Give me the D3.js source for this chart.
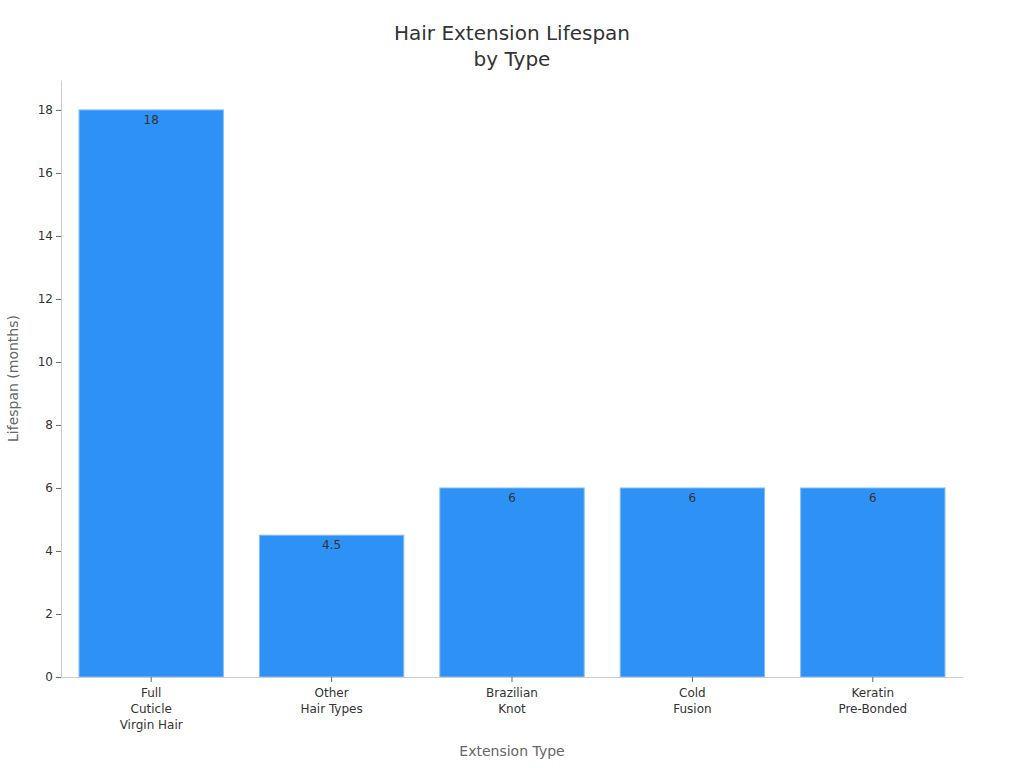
<!DOCTYPE html>
<html>
<head>
<meta charset="utf-8">
<script src="https://cdn.jsdelivr.net/npm/d3@7"></script>
<style>
  body { margin: 0; background: #fff; }
  svg { font-family: 'DejaVu Sans', sans-serif; }
</style>
</head>
<body>
<svg id="chart"></svg>
<script>
const WIDTH = 1024;
const HEIGHT = 768;

// Chart data.
const categories = [
  ['Full', 'Cuticle', 'Virgin Hair'],
  ['Other', 'Hair Types'],
  ['Brazilian', 'Knot'],
  ['Cold', 'Fusion'],
  ['Keratin', 'Pre-Bonded']
];
const lifespans = [18, 4.5, 6, 6, 6];
const yTicks = [0, 2, 4, 6, 8, 10, 12, 14, 16, 18];

const margin = {top: 80, right: 61, bottom: 91, left: 61};

const svg = d3.select('#chart')
  .attr('width', WIDTH)
  .attr('height', HEIGHT);

const keys = categories.map(c => c.join(' '));

const x = d3.scaleBand()
  .domain(keys)
  .range([margin.left, WIDTH - margin.right])
  .paddingInner(0.2)
  .paddingOuter(0.1);

const y = d3.scaleLinear()
  .domain([0, 18.95])
  .range([HEIGHT - margin.bottom, margin.top]);

// Title.
const title = svg.append('text')
  .attr('text-anchor', 'middle')
  .attr('fill', '#333')
  .style('font-size', '20px');
title.append('tspan').attr('x', WIDTH / 2).attr('y', 40).text('Hair Extension Lifespan');
title.append('tspan').attr('x', WIDTH / 2).attr('y', 66).text('by Type');

// Bars.
svg.append('g')
  .selectAll('rect')
  .data(lifespans)
  .join('rect')
  .attr('x', (d, i) => x(keys[i]))
  .attr('y', d => y(d))
  .attr('width', x.bandwidth())
  .attr('height', d => y(0) - y(d))
  .attr('fill', '#2e91f6')
  .attr('stroke', '#7fbcf9')
  .attr('stroke-width', 1);

// Value labels inside the top of each bar.
svg.append('g')
  .selectAll('text')
  .data(lifespans)
  .join('text')
  .attr('x', (d, i) => x(keys[i]) + x.bandwidth() / 2)
  .attr('y', d => y(d) + 14)
  .attr('text-anchor', 'middle')
  .attr('fill', '#333')
  .style('font-size', '12px')
  .text(d => d);

// Y axis.
const yAxis = svg.append('g')
  .attr('transform', `translate(${margin.left},0)`)
  .call(d3.axisLeft(y).tickValues(yTicks).tickSize(5).tickPadding(3).tickSizeOuter(0));
yAxis.select('.domain').attr('stroke', '#ccc');
yAxis.selectAll('.tick line').attr('stroke', '#666');
yAxis.selectAll('.tick text')
  .attr('fill', '#333')
  .style('font-size', '12px')
  .style('font-family', "'DejaVu Sans', sans-serif");

// X axis.
const xAxis = svg.append('g')
  .attr('transform', `translate(0,${HEIGHT - margin.bottom})`)
  .call(d3.axisBottom(x).tickSize(5).tickSizeOuter(0).tickFormat(''));
xAxis.select('.domain').attr('stroke', '#ccc');
xAxis.selectAll('.tick line').attr('stroke', '#666');
xAxis.selectAll('.tick text').remove();

// Multi-line category labels.
svg.append('g')
  .selectAll('text')
  .data(categories)
  .join('text')
  .attr('text-anchor', 'middle')
  .attr('fill', '#333')
  .style('font-size', '12px')
  .each(function(lines, i) {
    const cx = x(keys[i]) + x.bandwidth() / 2;
    d3.select(this).selectAll('tspan')
      .data(lines)
      .join('tspan')
      .attr('x', cx)
      .attr('y', (l, j) => HEIGHT - margin.bottom + 20 + j * 16)
      .text(l => l);
  });

// Axis titles.
svg.append('text')
  .attr('x', (margin.left + WIDTH - margin.right) / 2)
  .attr('y', 756)
  .attr('text-anchor', 'middle')
  .attr('fill', '#666')
  .style('font-size', '14px')
  .text('Extension Type');

svg.append('text')
  .attr('transform', `translate(18,${(margin.top + HEIGHT - margin.bottom) / 2}) rotate(-90)`)
  .attr('text-anchor', 'middle')
  .attr('fill', '#666')
  .style('font-size', '14px')
  .text('Lifespan (months)');
</script>
</body>
</html>
